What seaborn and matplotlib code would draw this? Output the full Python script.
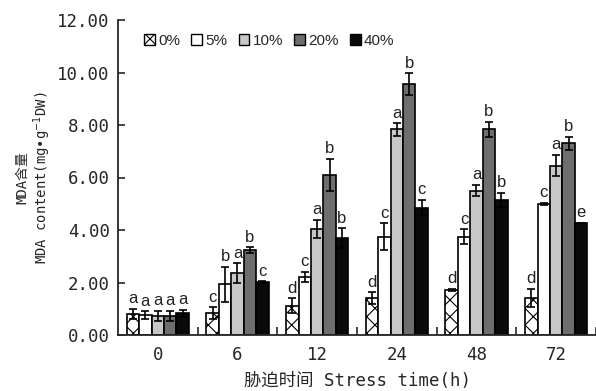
import numpy as np
import pandas as pd
import matplotlib
matplotlib.use("Agg")
import matplotlib.pyplot as plt
import seaborn as sns
from matplotlib.patches import Patch

# Stress durations (h) and salt concentrations
times = ["0", "6", "12", "24", "48", "72"]
levels = ["0%", "5%", "10%", "20%", "40%"]

# MDA content (mg·g-1 DW), one list per concentration, ordered by time
mda_0 = [0.80, 0.83, 1.12, 1.40, 1.71, 1.40]
mda_5 = [0.75, 1.93, 2.22, 3.75, 3.75, 4.99]
mda_10 = [0.73, 2.35, 4.04, 7.83, 5.50, 6.45]
mda_20 = [0.73, 3.24, 6.10, 9.55, 7.83, 7.30]
mda_40 = [0.82, 2.01, 3.68, 4.85, 5.14, 4.28]

# Standard errors
err_0 = [0.20, 0.23, 0.28, 0.23, 0.05, 0.35]
err_5 = [0.15, 0.67, 0.19, 0.50, 0.28, 0.04]
err_10 = [0.20, 0.38, 0.34, 0.23, 0.22, 0.41]
err_20 = [0.20, 0.10, 0.61, 0.42, 0.29, 0.25]
err_40 = [0.15, 0.03, 0.38, 0.29, 0.28, 0.00]

# Significance letters
sig_0 = ["a", "c", "d", "d", "d", "d"]
sig_5 = ["a", "b", "c", "c", "c", "c"]
sig_10 = ["a", "a", "a", "a", "a", "a"]
sig_20 = ["a", "b", "b", "b", "b", "b"]
sig_40 = ["a", "c", "b", "c", "b", "e"]

values = [mda_0, mda_5, mda_10, mda_20, mda_40]
errors = [err_0, err_5, err_10, err_20, err_40]
letters = [sig_0, sig_5, sig_10, sig_20, sig_40]
colors = ["#ffffff", "#ffffff", "#c8c8c8", "#6e6e6e", "#0a0a0a"]

rows = []
for lev, vals in zip(levels, values):
    for t, v in zip(times, vals):
        rows.append({"time": t, "level": lev, "mda": v})
df = pd.DataFrame(rows)

sns.set_style("ticks")
plt.rcParams["font.family"] = ["DejaVu Sans Mono", "Noto Sans CJK SC"]
plt.rcParams["hatch.linewidth"] = 0.8
plt.rcParams["axes.linewidth"] = 1.3

fig = plt.figure(figsize=(5.96, 3.91), dpi=100)
ax = fig.add_axes([118 / 596, (391 - 335) / 391, (596 - 118) / 596, (335 - 20) / 391])

sns.barplot(data=df, x="time", y="mda", hue="level", order=times,
            hue_order=levels, palette=colors, width=0.78, saturation=1,
            errorbar=None, edgecolor="black", linewidth=1.2, legend=False, ax=ax)

bar_groups = list(ax.containers)
for i, cont in enumerate(bar_groups):
    xs = [b.get_x() + b.get_width() / 2 for b in cont.patches]
    if i == 0:
        for b in cont.patches:
            b.set_hatch("xx")
    ax.errorbar(xs, values[i], yerr=errors[i], fmt="none", ecolor="black",
                elinewidth=1.2, capsize=3, capthick=1.2, zorder=5)
    for x, v, e, s in zip(xs, values[i], errors[i], letters[i]):
        ax.text(x, v + e + 0.1, s, ha="center", va="bottom", fontsize=12,
                family="Liberation Sans", color="#222222")

ax.set_ylim(0, 12)
ax.set_xlim(-0.5, 5.5)
ax.set_yticks(np.arange(0, 12.01, 2))
ax.set_yticklabels([f"{v:.2f}" for v in np.arange(0, 12.01, 2)], fontsize=12.5)
ax.set_xticks(range(len(times)))
ax.set_xticklabels(times, fontsize=12.5)
ax.set_xticks(np.arange(0.5, 5.6, 1), minor=True)
ax.tick_params(axis="x", which="major", length=0, pad=8)
ax.tick_params(axis="x", which="minor", direction="in", length=6, width=1.2)
ax.tick_params(axis="y", direction="in", length=5, width=1.2, pad=6)
sns.despine(ax=ax)

ax.set_xlabel("胁迫时间 Stress time(h)", fontsize=12.5, labelpad=6)
ax.set_ylabel("MDA含量\nMDA content(mg•g$^{-1}$DW)", fontsize=10, labelpad=3,
              linespacing=1.15)

handles = [Patch(facecolor=c, edgecolor="black", hatch=("xxx" if i == 0 else None),
                 linewidth=1.0) for i, c in enumerate(colors)]
ax.legend(handles, levels, loc="upper left", bbox_to_anchor=(0.055, 0.955),
          ncol=5, frameon=False, handlelength=0.7, handleheight=0.7,
          handletextpad=0.2, columnspacing=0.75, borderaxespad=0, borderpad=0,
          prop={"family": "Liberation Sans", "size": 11})

fig.savefig("out.png", dpi=100)
